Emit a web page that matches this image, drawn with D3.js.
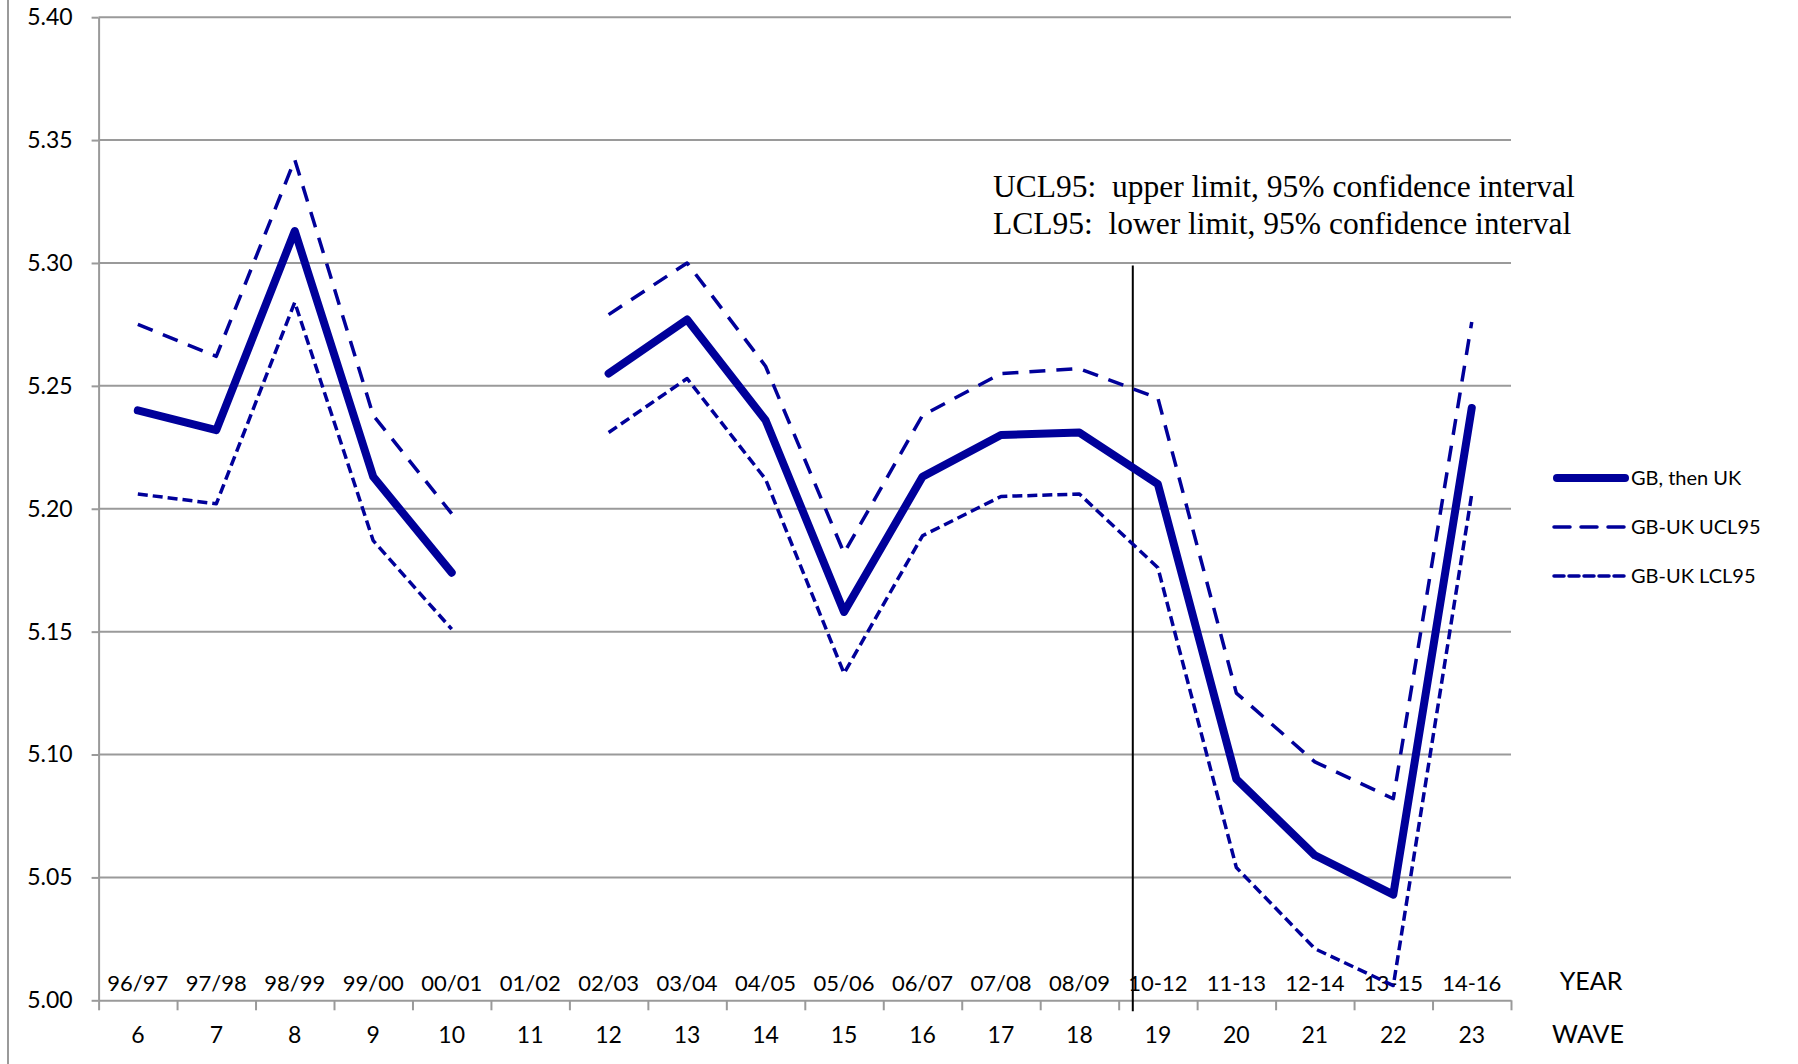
<!DOCTYPE html>
<html>
<head>
<meta charset="utf-8">
<script src="https://cdn.jsdelivr.net/npm/d3@7"></script>
<style>
  body { margin: 0; background: #fff; }
  text { font-family: Lato, "Open Sans", sans-serif; fill: #000; }
</style>
</head>
<body>
<div id="canvas"></div>
<script>
const width = 1798;
const height = 1064;

// data
var waves = [6, 7, 8, 9, 10, 11, 12, 13, 14, 15, 16, 17, 18, 19, 20, 21, 22, 23];
var years = ["96/97", "97/98", "98/99", "99/00", "00/01", "01/02", "02/03", "03/04", "04/05",
    "05/06", "06/07", "07/08", "08/09", "10-12", "11-13", "12-14", "13-15", "14-16"];
var gbUk = [5.240, 5.232, 5.313, 5.213, 5.174, null, 5.255, 5.277, 5.236,
    5.158, 5.213, 5.230, 5.231, 5.210, 5.090, 5.059, 5.043, 5.241];
var ucl95 = [5.275, 5.262, 5.342, 5.238, 5.198, null, 5.279, 5.300, 5.258,
    5.182, 5.238, 5.255, 5.257, 5.245, 5.125, 5.097, 5.082, 5.276];
var lcl95 = [5.206, 5.202, 5.284, 5.187, 5.151, null, 5.231, 5.253, 5.212,
    5.133, 5.189, 5.205, 5.206, 5.176, 5.054, 5.021, 5.006, 5.206];
var yTicks = [5.00, 5.05, 5.10, 5.15, 5.20, 5.25, 5.30, 5.35, 5.40];
var seriesNames = ["GB, then UK", "GB-UK UCL95", "GB-UK LCL95"];
var notes = ["UCL95:  upper limit, 95% confidence interval", "LCL95:  lower limit, 95% confidence interval"];
var breakWave = 18.68;   // vertical marker between wave 18 and 19

const navy = "#00009a";
const grid = "#9a9a9a";

const svg = d3.select("#canvas")
    .append("svg")
    .attr("width", width)
    .attr("height", height)
    .style("background-color", "white");

var x = d3.scaleLinear().domain([5.5, 23.5]).range([98.6, 1511]);
var y = d3.scaleLinear().domain([5.0, 5.4]).range([1000.3, 17.2]);

// outer frame line at far left
svg.append("line")
    .attr("x1", 8).attr("x2", 8)
    .attr("y1", 0).attr("y2", height)
    .attr("stroke", grid).attr("stroke-width", 2);

// gridlines
svg.selectAll(".grid")
    .data(yTicks.slice(1))
    .join("line")
    .attr("class", "grid")
    .attr("x1", x(5.5)).attr("x2", x(23.5))
    .attr("y1", d => y(d)).attr("y2", d => y(d))
    .attr("stroke", grid).attr("stroke-width", 2);

// y axis
var yAxis = svg.append("g")
    .attr("transform", `translate(${x(5.5)},0)`)
    .call(d3.axisLeft(y).tickValues(yTicks).tickFormat(d3.format(".2f"))
        .tickSize(7).tickSizeOuter(0).tickPadding(19));
yAxis.selectAll("line, path").attr("stroke", grid).attr("stroke-width", 2);
yAxis.selectAll("text").attr("font-size", "23px").attr("font-family", "Lato").attr("fill", "#000");

// x axis: ticks on category boundaries
var bounds = waves.map(d => d - 0.5).concat([23.5]);
var xAxis = svg.append("g")
    .attr("transform", `translate(0,${y(5.0)})`)
    .call(d3.axisBottom(x).tickValues(bounds).tickFormat("").tickSize(10).tickSizeOuter(0));
xAxis.selectAll("line, path").attr("stroke", grid).attr("stroke-width", 2);

// year labels inside the plot, wave labels below
svg.selectAll(".year")
    .data(years)
    .join("text")
    .attr("class", "year")
    .attr("x", (d, i) => x(waves[i]))
    .attr("y", 991)
    .attr("text-anchor", "middle")
    .attr("font-size", "22px")
    .text(d => d);

svg.selectAll(".wave")
    .data(waves)
    .join("text")
    .attr("class", "wave")
    .attr("x", d => x(d))
    .attr("y", 1043)
    .attr("text-anchor", "middle")
    .attr("font-size", "23px")
    .text(d => d);

svg.append("text")
    .attr("x", 1591).attr("y", 990)
    .attr("text-anchor", "middle")
    .attr("font-size", "25px")
    .text("YEAR");
svg.append("text")
    .attr("x", 1588).attr("y", 1043)
    .attr("text-anchor", "middle")
    .attr("font-size", "25px")
    .text("WAVE");

// vertical marker
svg.append("line")
    .attr("x1", x(breakWave)).attr("x2", x(breakWave))
    .attr("y1", y(5.299)).attr("y2", y(4.9955))
    .attr("stroke", "#000").attr("stroke-width", 2);

// annotation
svg.selectAll(".note")
    .data(notes)
    .join("text")
    .attr("class", "note")
    .attr("x", 993)
    .attr("y", (d, i) => 197 + i * 37)
    .style("font-family", "'Liberation Serif', 'Times New Roman', serif")
    .style("white-space", "pre")
    .attr("font-size", "31.5px")
    .text(d => d);

// series lines
var line = d3.line()
    .defined(d => d[1] != null)
    .x(d => x(d[0]))
    .y(d => y(d[1]));

var styles = [
    { w: 8, dash: null },
    { w: 3.5, dash: "16,11" },
    { w: 3.5, dash: "10,5" }
];
var allSeries = [gbUk, ucl95, lcl95];

[2, 1, 0].forEach(function (k) {
    svg.append("path")
        .datum(waves.map((w, i) => [w, allSeries[k][i]]))
        .attr("d", line)
        .attr("fill", "none")
        .attr("stroke", navy)
        .attr("stroke-width", styles[k].w)
        .attr("stroke-dasharray", styles[k].dash)
        .attr("stroke-linejoin", "round")
        .attr("stroke-linecap", k === 0 ? "round" : "butt");
});

// legend
var legend = svg.selectAll(".legend")
    .data(seriesNames)
    .join("g")
    .attr("class", "legend")
    .attr("transform", (d, i) => `translate(0,${478 + i * 49})`);

legend.append("line")
    .attr("x1", (d, i) => i === 0 ? 1557 : 1554)
    .attr("x2", (d, i) => i === 0 ? 1625 : 1628)
    .attr("stroke", navy)
    .attr("stroke-width", (d, i) => styles[i].w)
    .attr("stroke-dasharray", (d, i) => styles[i].dash)
    .attr("stroke-linecap", "round");

legend.append("text")
    .attr("x", 1631)
    .attr("dy", "0.36em")
    .attr("font-size", "20px")
    .text(d => d);
</script>
</body>
</html>
